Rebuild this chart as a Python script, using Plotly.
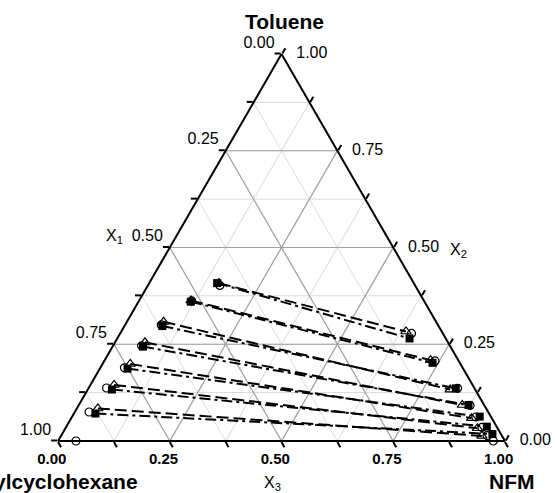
import plotly.graph_objects as go

# ---- data (mole fractions) ----
# experimental tie lines (filled squares)
exp_raff_mch = [0.440, 0.523, 0.618, 0.688, 0.751, 0.813, 0.881]
exp_raff_tol = [0.408, 0.360, 0.297, 0.244, 0.187, 0.133, 0.071]
exp_raff_nfm = [0.152, 0.117, 0.085, 0.068, 0.062, 0.054, 0.048]
exp_ext_mch = [0.081, 0.061, 0.042, 0.035, 0.025, 0.022, 0.019]
exp_ext_tol = [0.265, 0.202, 0.136, 0.093, 0.063, 0.037, 0.018]
exp_ext_nfm = [0.654, 0.737, 0.822, 0.872, 0.912, 0.941, 0.963]

# model 1 (open circles)
m1_raff_mch = [0.960, 0.437, 0.520, 0.619, 0.690, 0.757, 0.823, 0.893]
m1_raff_tol = [0.000, 0.402, 0.362, 0.300, 0.246, 0.189, 0.137, 0.075]
m1_raff_nfm = [0.040, 0.161, 0.118, 0.081, 0.064, 0.054, 0.040, 0.032]
m1_ext_mch = [0.026, 0.070, 0.053, 0.038, 0.032, 0.034, 0.034, 0.033]
m1_ext_tol = [0.000, 0.278, 0.207, 0.136, 0.092, 0.062, 0.035, 0.014]
m1_ext_nfm = [0.974, 0.652, 0.740, 0.826, 0.876, 0.904, 0.931, 0.953]

# model 2 (open triangles)
m2_raff_mch = [0.436, 0.521, 0.610, 0.678, 0.739, 0.802, 0.869]
m2_raff_tol = [0.408, 0.363, 0.308, 0.255, 0.199, 0.145, 0.084]
m2_raff_nfm = [0.156, 0.116, 0.082, 0.067, 0.062, 0.053, 0.047]
m2_ext_mch = [0.080, 0.062, 0.056, 0.049, 0.045, 0.045, 0.045]
m2_ext_tol = [0.283, 0.209, 0.133, 0.093, 0.059, 0.033, 0.013]
m2_ext_nfm = [0.637, 0.729, 0.811, 0.858, 0.896, 0.922, 0.942]

tick_vals = [0, 0.125, 0.25, 0.375, 0.5, 0.625, 0.75, 0.875, 1.0]
label_vals = [0.0, 0.25, 0.5, 0.75, 1.0]
tick_labels = ["0.00", "0.25", "0.50", "0.75", "1.00"]
major_vals = [0.25, 0.5, 0.75]

FONT = "Arial, Liberation Sans, sans-serif"
NB = "\u00a0"

fig = go.Figure()

# major grid lines (darker)
ga, gb, gc = [], [], []
for v in major_vals:
    ga += [v, v, None]; gb += [1 - v, 0, None]; gc += [0, 1 - v, None]
    ga += [1 - v, 0, None]; gb += [v, v, None]; gc += [0, 1 - v, None]
    ga += [1 - v, 0, None]; gb += [0, 1 - v, None]; gc += [v, v, None]
fig.add_trace(go.Scatterternary(a=ga, b=gb, c=gc, mode="lines",
                                line=dict(color="#a0a0a0", width=1.2),
                                hoverinfo="skip", showlegend=False))

# tie lines
for i in range(len(exp_raff_tol)):
    fig.add_trace(go.Scatterternary(
        a=[exp_raff_tol[i], exp_ext_tol[i]], b=[exp_raff_mch[i], exp_ext_mch[i]],
        c=[exp_raff_nfm[i], exp_ext_nfm[i]], mode="lines",
        line=dict(color="black", width=2, dash="11px,4px,3px,4px"), showlegend=False))
    fig.add_trace(go.Scatterternary(
        a=[m2_raff_tol[i], m2_ext_tol[i]], b=[m2_raff_mch[i], m2_ext_mch[i]],
        c=[m2_raff_nfm[i], m2_ext_nfm[i]], mode="lines",
        line=dict(color="black", width=2, dash="12px,5px"), showlegend=False))

# markers
fig.add_trace(go.Scatterternary(
    a=m1_raff_tol + m1_ext_tol, b=m1_raff_mch + m1_ext_mch, c=m1_raff_nfm + m1_ext_nfm,
    mode="markers", cliponaxis=False,
    marker=dict(symbol="circle-open", size=8, color="black", line=dict(width=1.2)),
    showlegend=False))
fig.add_trace(go.Scatterternary(
    a=m2_raff_tol + m2_ext_tol, b=m2_raff_mch + m2_ext_mch, c=m2_raff_nfm + m2_ext_nfm,
    mode="markers", cliponaxis=False,
    marker=dict(symbol="triangle-up-open", size=9, color="black", line=dict(width=1.2)),
    showlegend=False))
fig.add_trace(go.Scatterternary(
    a=exp_raff_tol + exp_ext_tol, b=exp_raff_mch + exp_ext_mch, c=exp_raff_nfm + exp_ext_nfm,
    mode="markers", cliponaxis=False,
    marker=dict(symbol="square", size=8, color="black"), showlegend=False))

CLEAR = "rgba(0,0,0,0)"

# left edge labels: x1 (Methylcyclohexane) fraction
fig.add_trace(go.Scatterternary(
    a=[1 - v for v in label_vals], b=label_vals, c=[0] * 5,
    mode="markers+text", text=[t + NB for t in tick_labels], textposition="top left",
    textfont=dict(family=FONT, size=16, color="black"), cliponaxis=False,
    marker=dict(size=2.4, color=CLEAR), hoverinfo="skip", showlegend=False))
# right edge labels: x2 (Toluene) fraction
fig.add_trace(go.Scatterternary(
    a=label_vals, b=[0] * 5, c=[1 - v for v in label_vals],
    mode="markers+text", text=tick_labels, textposition="middle right",
    textfont=dict(family=FONT, size=16, color="black"), cliponaxis=False,
    marker=dict(size=22, color=CLEAR), hoverinfo="skip", showlegend=False))
# bottom edge labels: x3 (NFM) fraction
fig.add_trace(go.Scatterternary(
    a=[0] * 5, b=[1 - v for v in label_vals], c=label_vals,
    mode="markers+text", text=[t + NB * 3 for t in tick_labels], textposition="bottom center",
    textfont=dict(family=FONT, size=15, color="black", weight="bold"), cliponaxis=False,
    marker=dict(size=17.6, color=CLEAR), hoverinfo="skip", showlegend=False))


def ax():
    return dict(
        title=dict(text=""),
        tickmode="array", tickvals=tick_vals, showticklabels=False,
        ticks="outside", ticklen=6, tickwidth=1.5, tickcolor="black",
        showgrid=True, gridcolor="#dcdcdc", gridwidth=1,
        showline=True, linecolor="black", linewidth=2, min=0,
    )


W, H, L, R, T, B = 555, 493, 58, 50, 54, 52


def px(x, y):
    return (x - L) / (W - L - R), 1 - (y - T) / (H - T - B)


def ann(text, x, y, size, bold=False):
    xx, yy = px(x, y)
    return dict(text=text, x=xx, y=yy, xref="paper", yref="paper", showarrow=False,
                xanchor="center", yanchor="middle",
                font=dict(family=FONT, size=size, color="black",
                          weight="bold" if bold else "normal"))


fig.update_layout(
    width=W, height=H,
    margin=dict(l=L, r=R, t=T, b=B),
    paper_bgcolor="white",
    ternary=dict(
        sum=1, bgcolor="white",
        domain=dict(x=[0, 1], y=[0, 1]),
        aaxis=ax(), baxis=ax(), caxis=ax(),
    ),
    annotations=[
        ann("Toluene", 284, 21, 21, True),
        ann("Methylcyclohexane", 41, 482, 21, True),
        ann("NFM", 512, 482, 21, True),
        ann("X<sub>1</sub>", 114, 237, 16),
        ann("X<sub>2</sub>", 458, 250, 16),
        ann("X<sub>3</sub>", 272, 483, 16),
    ],
)

fig.write_html("out.html")
